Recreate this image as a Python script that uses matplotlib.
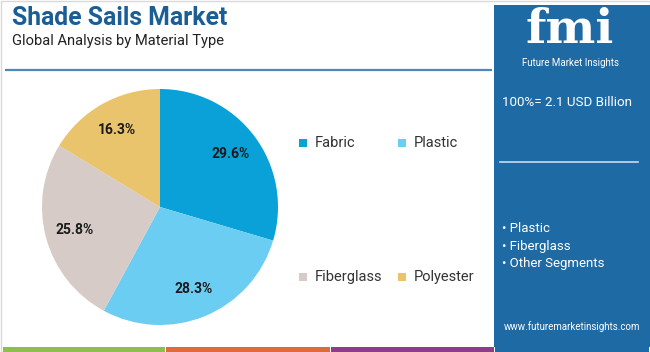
import matplotlib
matplotlib.use("Agg")
import matplotlib.pyplot as plt
from matplotlib.patches import Rectangle

categories = ["Fabric", "Plastic", "Fiberglass", "Polyester"]
shares = [29.6, 28.3, 25.8, 16.3]
colors = ["#0aa0d8", "#6ccdf2", "#d6cbc7", "#e9c46c"]
title = "Shade Sails Market"
subtitle = "Global Analysis by Material Type"
total_text = "100%= 2.1 USD Billion"
bullets = ["Plastic", "Fiberglass", "Other Segments"]
website = "www.futuremarketinsights.com"

W, H = 650, 352
fig = plt.figure(figsize=(W / 100, H / 100), dpi=100)
plt.rcParams['font.family'] = ['Roboto', 'DejaVu Sans']

# overlay in pixel coords
ov = fig.add_axes([0, 0, 1, 1])
ov.set_xlim(0, W)
ov.set_ylim(H, 0)
ov.axis("off")

panel_blue = "#1d6aa5"
# border
ov.add_patch(Rectangle((0.5, 0.5), W - 1, H - 1, fill=False, ec="#d9d9d9", lw=1))
# header
ov.text(12, 18, title, fontsize=17.8, fontweight="bold", color="#1b5e95", va="center", ha="left")
ov.text(12, 41, subtitle, fontsize=10.6, color="#222222", va="center", ha="left")
ov.plot([5, 492], [70, 70], color="#4f88b8", lw=1.6, solid_capstyle="butt")

# right panel
ov.add_patch(Rectangle((494, 5), 156, 342, color=panel_blue, lw=0))
ov.text(570, 30, "fmi", fontsize=34, fontweight="bold", family="DejaVu Serif", color="white",
        ha="center", va="center")
ov.text(570, 63, "Future Market Insights", fontsize=7, color="white", ha="center", va="center")
ov.text(502, 103, total_text, fontsize=9.6, color="white", ha="left", va="center")
ov.plot([500, 638], [162, 162], color="#c9dcec", lw=1.2)
for i, b in enumerate(bullets):
    ov.text(502, 229 + i * 17.5, "• " + b, fontsize=9.5, color="white", ha="left", va="center")
ov.text(572, 327, website, fontsize=7.0, color="white", ha="center", va="center")

# bottom stripes
stripe_cols = ["#8cbf4b", "#df6a3a", "#8d3d8c", panel_blue]
xs = [3, 166, 331, 495, 650]
for i, c in enumerate(stripe_cols):
    ov.add_patch(Rectangle((xs[i], 347), xs[i + 1] - xs[i] - 1, 5, color=c, lw=0))

# pie
cx, cy, r = 160, 207, 118
ax = fig.add_axes([(cx - r) / W, 1 - (cy + r) / H, 2 * r / W, 2 * r / H])
wedges, texts, autotexts = ax.pie(shares, colors=colors, startangle=90, counterclock=False,
                                  autopct="%.1f%%", pctdistance=0.75,
                                  wedgeprops=dict(linewidth=0),
                                  textprops=dict(fontsize=10, fontweight="bold", color="#1a1a1a"))
ax.set_xlim(-1, 1)
ax.set_ylim(-1, 1)
ax.set_aspect("equal")

# legend
leg_pos = [(303, 143), (402, 143), (303, 277), (402, 277)]
for (x, y), name, c in zip(leg_pos, categories, colors):
    ov.add_patch(Rectangle((x - 4, y - 4), 8, 8, color=c, lw=0))
    ov.text(x + 12, y, name, fontsize=10.5, color="#333333", ha="left", va="center")

fig.savefig("out.png", dpi=100)
